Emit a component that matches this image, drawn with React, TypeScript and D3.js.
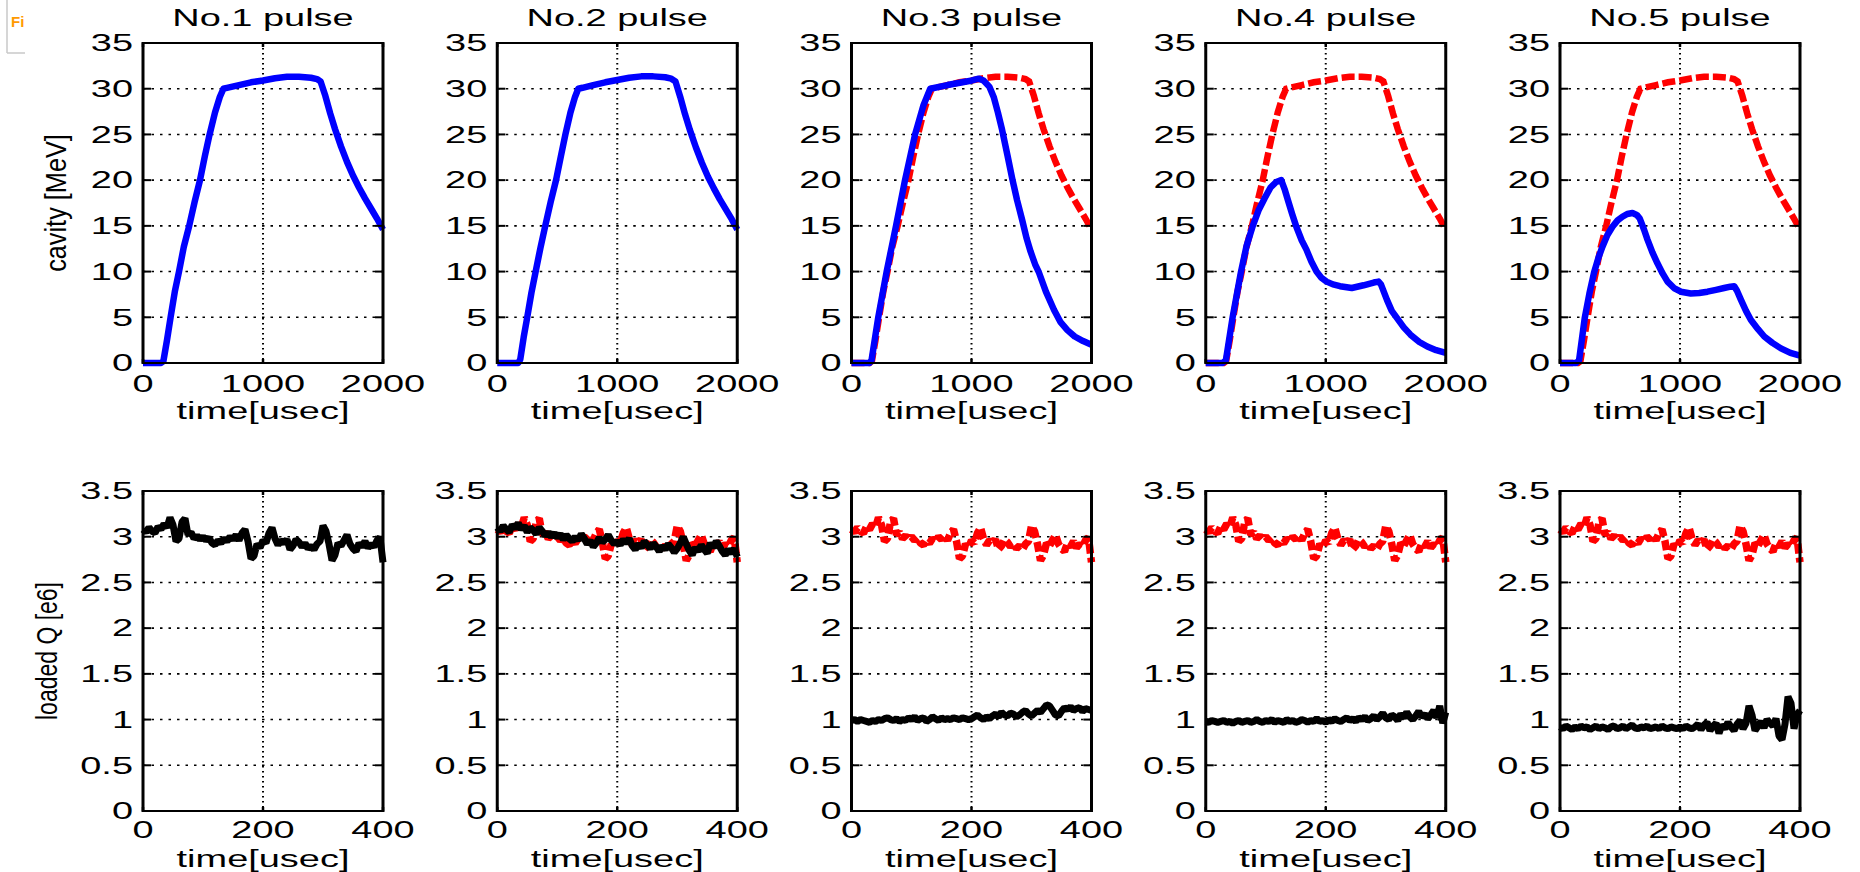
import React from "react";
import * as d3 from "d3";

// ---------- data ----------
const pulseTitles = ["No.1 pulse", "No.2 pulse", "No.3 pulse", "No.4 pulse", "No.5 pulse"];
const cavityYTicks = [0, 5, 10, 15, 20, 25, 30, 35];
const cavityXTicks = [0, 1000, 2000];
const qYTicks = [0, 0.5, 1, 1.5, 2, 2.5, 3, 3.5];
const qYTickLabels = ["0", "0.5", "1", "1.5", "2", "2.5", "3", "3.5"];
const qXTicks = [0, 200, 400];
const cavityLabel = "cavity [MeV]";
const qLabel = "loaded Q [e6]";
const xLabel = "time[usec]";

// cavity voltage [t(usec), MeV]
const cavityRef: [number, number][] = [
  [0, 0], [150, 0], [170, 0.2], [200, 2.5], [230, 5], [265, 7.8], [300, 10], [340, 12.7],
  [385, 15], [430, 17.6], [475, 20], [515, 22.6], [555, 25], [600, 27.4], [640, 29.1],
  [670, 30], [700, 30.1], [800, 30.4], [900, 30.7], [1000, 30.9], [1100, 31.15], [1200, 31.3],
  [1300, 31.3], [1400, 31.2], [1450, 31.05], [1480, 30.8], [1520, 29.2], [1560, 27.3],
  [1600, 25.6], [1650, 23.7], [1700, 22.0], [1750, 20.5], [1800, 19.2], [1850, 18.0],
  [1900, 16.9], [1950, 15.8], [2000, 14.6],
];
const cavity2: [number, number][] = [
  [0, 0], [175, 0], [192, 0.4], [220, 2.8], [250, 5], [285, 7.7], [320, 10], [360, 12.6],
  [400, 15], [445, 17.6], [490, 20], [530, 22.6], [568, 25], [610, 27.4], [648, 29.1],
  [675, 30], [710, 30.1], [800, 30.4], [900, 30.7], [1000, 30.95], [1100, 31.2], [1200, 31.35],
  [1300, 31.35], [1400, 31.25], [1450, 31.1], [1485, 30.8], [1525, 29.1], [1565, 27.2],
  [1605, 25.5], [1655, 23.6], [1705, 21.9], [1755, 20.4], [1805, 19.1], [1855, 17.9],
  [1905, 16.8], [1955, 15.7], [2000, 14.6],
];
const cavity3: [number, number][] = [
  [0, 0], [150, 0], [167, 0.3], [223, 5], [293, 10], [371, 15], [446, 20], [530, 25],
  [600, 28.2], [656, 30], [800, 30.4], [1004, 30.9], [1060, 31.1], [1100, 30.9], [1150, 30.2],
  [1185, 29.1], [1220, 27.4], [1255, 25.5], [1300, 22.7], [1339, 20.2], [1380, 17.8],
  [1423, 15.6], [1460, 13.6], [1492, 12.2], [1530, 10.8], [1562, 9.9], [1620, 7.8],
  [1688, 5.8], [1740, 4.5], [1799, 3.6], [1860, 2.9], [1930, 2.4], [2000, 2.0],
];
const cavity4: [number, number][] = [
  [0, 0], [140, 0], [168, 0.3], [224, 5], [294, 10], [340, 12.8], [392, 15], [440, 16.7],
  [490, 18], [540, 19.2], [587, 19.8], [629, 20], [660, 18.9], [685, 17.8], [720, 16.3],
  [755, 14.9], [800, 13.4], [839, 12.4], [880, 11.1], [923, 10.0], [965, 9.3], [1007, 8.9],
  [1060, 8.6], [1119, 8.4], [1217, 8.2], [1315, 8.5], [1400, 8.8], [1440, 8.9], [1460, 8.6],
  [1510, 6.9], [1550, 5.7], [1594, 4.9], [1650, 3.9], [1706, 3.1], [1780, 2.3], [1846, 1.8],
  [1920, 1.4], [2000, 1.1],
];
const cavity5: [number, number][] = [
  [0, 0], [135, 0], [159, 0.3], [206, 4.9], [245, 7.6], [284, 9.9], [320, 11.5], [353, 12.7],
  [395, 14.0], [437, 14.9], [480, 15.6], [520, 16.0], [560, 16.3], [604, 16.4], [640, 16.2],
  [665, 15.8], [700, 14.6], [729, 13.5], [770, 12.1], [812, 10.9], [855, 9.8], [896, 8.9],
  [950, 8.2], [1007, 7.8], [1090, 7.6], [1160, 7.65], [1229, 7.8], [1300, 8.0], [1368, 8.2],
  [1420, 8.35], [1452, 8.4], [1475, 7.9], [1508, 6.9], [1550, 5.7], [1591, 4.7], [1650, 3.7],
  [1702, 2.9], [1770, 2.2], [1841, 1.6], [1920, 1.1], [2000, 0.8],
];

// loaded Q [e6], sampled every 5 usec from 0 to 400
const qStep = 5;
const qRef = [
  3.08, 3.05, 3.10, 3.06, 3.04, 3.11, 3.08, 3.14, 3.10, 3.21, 3.13, 2.95, 2.98, 3.16, 3.20, 3.02,
  3.05, 2.98, 3.01, 2.97, 3.00, 2.96, 2.99, 2.93, 2.91, 2.96, 2.93, 2.98, 2.95, 3.00, 2.97, 3.02,
  2.96, 3.04, 3.08, 2.95, 2.76, 2.79, 2.92, 2.88, 2.96, 2.93, 3.04, 3.10, 2.98, 2.91, 2.96, 2.93,
  2.97, 2.86, 2.90, 2.97, 2.94, 2.89, 2.93, 2.87, 2.90, 2.86, 2.92, 2.95, 3.12, 3.06, 2.92, 2.74,
  2.80, 2.93, 2.90, 2.96, 3.02, 2.92, 2.87, 2.84, 2.93, 2.89, 2.95, 2.88, 2.92, 2.89, 2.96, 2.99,
  2.72,
];
const q2 = [
  3.10, 3.06, 3.12, 3.08, 3.05, 3.13, 3.09, 3.15, 3.08, 3.12, 3.05, 3.10, 3.07, 3.03, 3.10, 3.06,
  3.01, 3.05, 3.00, 3.04, 2.99, 3.03, 2.97, 3.02, 2.98, 2.95, 3.00, 2.96, 3.03, 2.98, 2.92, 2.96,
  2.89, 2.93, 2.99, 2.94, 2.97, 3.02, 2.96, 2.92, 2.95, 2.91, 2.97, 2.93, 2.98, 2.90, 2.86, 2.92,
  2.88, 2.95, 2.91, 2.87, 2.93, 2.89, 2.84, 2.90, 2.86, 2.92, 2.88, 2.83, 2.87, 2.93, 3.00, 2.92,
  2.85, 2.80, 2.88, 2.84, 2.91, 2.86, 2.82, 2.93, 2.88, 2.95, 2.90, 2.84, 2.80, 2.86, 2.82, 2.87,
  2.78,
];
const q3 = [
  0.99, 1.00, 0.98, 1.00, 0.99, 0.98, 0.97, 0.99, 0.98, 1.00, 0.99, 1.01, 1.02, 1.00, 0.99, 1.01,
  0.98, 1.00, 0.99, 1.02, 1.00, 1.03, 0.99, 1.01, 1.02, 0.98, 1.00, 1.03, 1.01, 0.99, 1.02, 1.00,
  1.01, 1.00, 1.02, 1.01, 1.00, 1.02, 1.01, 1.00, 1.01, 1.03, 1.05, 1.02, 1.00, 1.03, 1.01, 1.04,
  1.06, 1.03, 1.08, 1.05, 1.04, 1.07, 1.06, 1.03, 1.05, 1.08, 1.10, 1.06, 1.04, 1.07, 1.10, 1.08,
  1.12, 1.16, 1.15, 1.10, 1.05, 1.04, 1.09, 1.13, 1.11, 1.14, 1.10, 1.12, 1.13, 1.09, 1.12, 1.11,
  1.10,
];
const q4 = [
  0.98, 0.97, 0.99, 0.98, 0.97, 0.98, 0.99, 0.97, 0.98, 0.96, 0.98, 0.99, 0.97, 0.98, 0.99, 0.97,
  0.98, 1.00, 0.98, 0.97, 0.99, 0.98, 1.00, 0.97, 0.99, 0.98, 0.97, 1.00, 0.98, 0.99, 0.97, 0.98,
  1.00, 0.99, 0.97, 0.99, 0.98, 1.01, 0.98, 0.99, 0.97, 1.00, 0.98, 1.01, 0.99, 0.98, 1.00, 1.02,
  0.99, 1.01, 0.98, 1.02, 1.00, 1.03, 0.99, 1.01, 1.04, 1.00, 1.03, 1.07, 1.02, 1.00, 1.05, 1.03,
  0.99, 1.06, 1.02, 1.08, 1.03, 1.00, 1.04, 1.09, 1.03, 1.06, 1.01, 1.05, 1.10, 1.02, 1.15, 0.96,
  1.08,
];
const q5 = [
  0.92, 0.90, 0.93, 0.91, 0.89, 0.92, 0.90, 0.93, 0.91, 0.92, 0.89, 0.91, 0.93, 0.90, 0.92, 0.91,
  0.89, 0.92, 0.93, 0.90, 0.91, 0.93, 0.90, 0.92, 0.94, 0.91, 0.90, 0.92, 0.91, 0.93, 0.90, 0.91,
  0.92, 0.90, 0.93, 0.91, 0.90, 0.92, 0.91, 0.90, 0.92, 0.90, 0.93, 0.91, 0.90, 0.92, 0.95, 0.89,
  0.94, 0.97, 0.88, 0.93, 0.96, 0.85, 0.94, 0.90, 0.97, 0.92, 0.88, 0.95, 0.99, 0.90, 0.96, 1.15,
  1.05, 0.88, 0.93, 0.98, 0.91, 1.00, 0.96, 0.93, 1.01, 0.82, 0.78, 0.95, 1.25, 1.18, 0.90, 1.05,
  1.10,
];

const cavitySolid = [cavityRef, cavity2, cavity3, cavity4, cavity5];
const cavityDashed: ([number, number][] | null)[] = [null, null, cavityRef, cavityRef, cavityRef];
const qSolid = [qRef, q2, q3, q4, q5];
const qDashed: (number[] | null)[] = [null, qRef, qRef, qRef, qRef];

// ---------- layout ----------
const W = 1860;
const H = 872;
const FONT = "'Liberation Sans', Arial, Helvetica, sans-serif";
const SX = 1.65;
const FS = 23;
const plotW = 240;
const firstLeft = 143;
const colStep = 354.25;
const topRow = { y0: 43, y1: 363 };
const botRow = { y0: 491, y1: 811 };

function HText(props: { x: number; y: number; anchor?: string; size?: number; children: any; weight?: any }) {
  const { x, y, anchor = "middle", size = FS, children, weight = "normal" } = props;
  return (
    <text
      transform={`translate(${x},${y}) scale(${SX},1)`}
      textAnchor={anchor}
      fontSize={size}
      fontFamily={FONT}
      fontWeight={weight}
      fill="#000"
    >
      {children}
    </text>
  );
}

function Axes(props: {
  left: number;
  row: { y0: number; y1: number };
  x: d3.ScaleLinear<number, number>;
  y: d3.ScaleLinear<number, number>;
  xTicks: number[];
  yTicks: number[];
  yLabels: string[];
  xLabelBaseline: number;
  xTickBaseline: number;
  children?: any;
}) {
  const { left, row, x, y, xTicks, yTicks, yLabels, xLabelBaseline, xTickBaseline, children } = props;
  const right = left + plotW;
  return (
    <g>
      {/* grid */}
      {yTicks.slice(1, -1).map((t) => (
        <line key={"gy" + t} x1={left} x2={right} y1={y(t)} y2={y(t)} stroke="#000" strokeWidth={1.6} strokeDasharray="2.5 6" />
      ))}
      {xTicks.slice(1, -1).map((t) => (
        <line key={"gx" + t} x1={x(t)} x2={x(t)} y1={row.y0} y2={row.y1} stroke="#000" strokeWidth={2} strokeDasharray="1.6 3.4" />
      ))}
      {children}
      {/* ticks */}
      {yTicks.map((t) => (
        <g key={"ty" + t}>
          <line x1={left} x2={left + 8} y1={y(t)} y2={y(t)} stroke="#000" strokeWidth={2} />
          <line x1={right - 8} x2={right} y1={y(t)} y2={y(t)} stroke="#000" strokeWidth={2} />
        </g>
      ))}
      {xTicks.map((t) => (
        <g key={"tx" + t}>
          <line x1={x(t)} x2={x(t)} y1={row.y1} y2={row.y1 - 4} stroke="#000" strokeWidth={2.5} />
          <line x1={x(t)} x2={x(t)} y1={row.y0} y2={row.y0 + 4} stroke="#000" strokeWidth={2.5} />
        </g>
      ))}
      {/* box */}
      <line x1={left} x2={right} y1={row.y0} y2={row.y0} stroke="#000" strokeWidth={2.2} />
      <line x1={left} x2={right} y1={row.y1} y2={row.y1} stroke="#000" strokeWidth={2.2} />
      <line x1={left} x2={left} y1={row.y0 - 1.1} y2={row.y1 + 1.1} stroke="#000" strokeWidth={3} />
      <line x1={right} x2={right} y1={row.y0 - 1.1} y2={row.y1 + 1.1} stroke="#000" strokeWidth={3} />
      {/* tick labels */}
      {yTicks.map((t, i) => (
        <HText key={"ly" + t} x={left - 10} y={y(t) + 8.3} anchor="end">
          {yLabels[i]}
        </HText>
      ))}
      {xTicks.map((t) => (
        <HText key={"lx" + t} x={x(t)} y={xTickBaseline}>
          {String(t)}
        </HText>
      ))}
      <HText x={(left + right) / 2} y={xLabelBaseline}>
        {xLabel}
      </HText>
    </g>
  );
}

export default function App() {
  const panels = pulseTitles.map((title, i) => {
    const left = firstLeft + i * colStep;
    const right = left + plotW;
    const xc = d3.scaleLinear().domain([0, 2000]).range([left, right]);
    const yc = d3.scaleLinear().domain([0, 35]).range([topRow.y1, topRow.y0]);
    const xq = d3.scaleLinear().domain([0, 400]).range([left, right]);
    const yq = d3.scaleLinear().domain([0, 3.5]).range([botRow.y1, botRow.y0]);

    const cavLine = d3
      .line<[number, number]>()
      .x((d) => xc(d[0]))
      .y((d) => yc(d[1]));
    const qLine = d3
      .line<number>()
      .x((_, j) => xq(j * qStep))
      .y((d) => yq(d));

    const dashedC = cavityDashed[i];
    const dashedQ = qDashed[i];

    return (
      <g key={title}>
        <HText x={(left + right) / 2} y={26}>
          {title}
        </HText>
        <Axes
          left={left}
          row={topRow}
          x={xc}
          y={yc}
          xTicks={cavityXTicks}
          yTicks={cavityYTicks}
          yLabels={cavityYTicks.map(String)}
          xTickBaseline={392}
          xLabelBaseline={419}
        >
          {dashedC && (
            <path d={cavLine(dashedC) || ""} fill="none" stroke="#ff0000" strokeWidth={6.5} strokeDasharray="13 4" />
          )}
          <path d={cavLine(cavitySolid[i]) || ""} fill="none" stroke="#0000ff" strokeWidth={6.5} strokeLinejoin="round" />
        </Axes>
        <Axes
          left={left}
          row={botRow}
          x={xq}
          y={yq}
          xTicks={qXTicks}
          yTicks={qYTicks}
          yLabels={qYTickLabels}
          xTickBaseline={838}
          xLabelBaseline={867}
        >
          {dashedQ && (
            <path d={qLine(dashedQ) || ""} fill="none" stroke="#ff0000" strokeWidth={7.5} strokeDasharray="10 4" strokeLinejoin="bevel" />
          )}
          <path d={qLine(qSolid[i]) || ""} fill="none" stroke="#000" strokeWidth={7} strokeLinejoin="bevel" />
        </Axes>
      </g>
    );
  });

  return (
    <svg
      width={W}
      height={H}
      viewBox={`0 0 ${W} ${H}`}
      style={{ position: "absolute", left: 0, top: 0, background: "#fff" }}
    >
      <rect x={0} y={0} width={W} height={H} fill="#fff" />
      {/* window fragment at top-left */}
      <line x1={7} x2={7} y1={0} y2={53} stroke="#c8c8c8" strokeWidth={1.5} />
      <line x1={7} x2={25} y1={53} y2={53} stroke="#c8c8c8" strokeWidth={1.5} />
      <text x={11} y={27} fontSize={15} fontWeight="bold" fontFamily={FONT} fill="#ff9a00">
        Fi
      </text>
      {panels}
      <text
        transform={`translate(66,${(topRow.y0 + topRow.y1) / 2}) rotate(-90) scale(1.1,1.25)`}
        textAnchor="middle"
        fontSize={23}
        fontFamily={FONT}
        fill="#000"
      >
        {cavityLabel}
      </text>
      <text
        transform={`translate(57,${(botRow.y0 + botRow.y1) / 2}) rotate(-90) scale(1.0,1.25)`}
        textAnchor="middle"
        fontSize={23}
        fontFamily={FONT}
        fill="#000"
      >
        {qLabel}
      </text>
    </svg>
  );
}
